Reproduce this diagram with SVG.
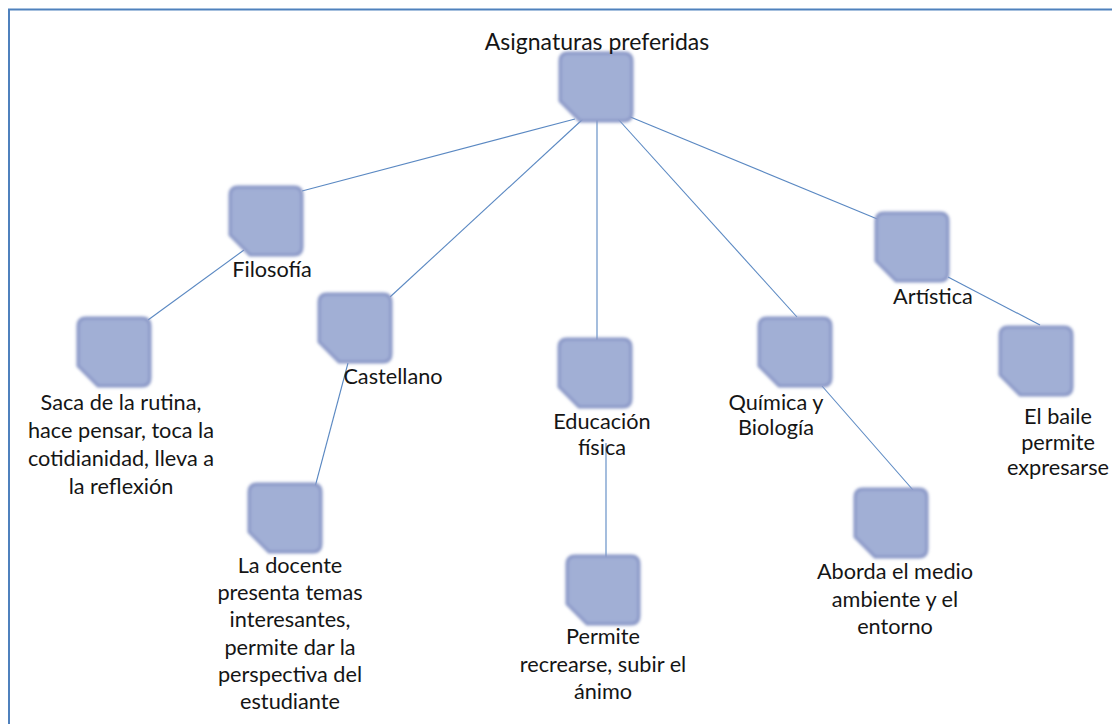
<svg xmlns="http://www.w3.org/2000/svg" xmlns:xlink="http://www.w3.org/1999/xlink" width="1112" height="724" viewBox="0 0 1112 724">
<style>
.t{font-family:Lato,"Liberation Sans",sans-serif;font-size:21.7px;fill:#151515;text-anchor:middle}
.title{font-size:23px}
.ln{stroke:#5A88C2;stroke-width:1.1;fill:none}
</style>
<defs>
<filter id="soft" x="-20%" y="-20%" width="140%" height="140%"><feGaussianBlur stdDeviation="1.5"/></filter>
<g id="nd"><path d="M8,0 H64 Q72,0 72,8 V60 Q72,68 64,68 H20 L0,48 V8 Q0,0 8,0 Z" fill="#A1AFD5" stroke="#8694C5" stroke-width="3" filter="url(#soft)"/></g>
</defs>
<rect x="0" y="0" width="1112" height="724" fill="#ffffff"/>
<rect x="9" y="9.5" width="1200" height="800" fill="none" stroke="#4F81BD" stroke-width="2"/>
<g id="connectors">
<line class="ln" x1="575" y1="119" x2="302" y2="191"/>
<line class="ln" x1="583" y1="119" x2="390" y2="297"/>
<line class="ln" x1="597" y1="120" x2="597" y2="340"/>
<line class="ln" x1="618" y1="119" x2="797" y2="317"/>
<line class="ln" x1="628" y1="116" x2="887" y2="223"/>
<line class="ln" x1="244" y1="250" x2="148" y2="320"/>
<line class="ln" x1="348" y1="363" x2="315" y2="487"/>
<line class="ln" x1="606" y1="443" x2="606" y2="558"/>
<line class="ln" x1="822" y1="386" x2="913" y2="490"/>
<line class="ln" x1="948" y1="277" x2="1040" y2="325"/>
</g>
<g id="root"><use xlink:href="#nd" x="560" y="53"/><text class="t title" x="597" y="50">Asignaturas preferidas</text></g>
<g id="filosofia"><use xlink:href="#nd" x="230" y="187"/><text class="t" x="272" y="277">Filosofía</text></g>
<g id="castellano"><use xlink:href="#nd" x="319" y="294"/><text class="t" x="393" y="384">Castellano</text></g>
<g id="saca"><use xlink:href="#nd" x="78" y="318"/><text class="t" x="121" y="410"><tspan x="121">Saca de la rutina,</tspan><tspan x="121" dy="28">hace pensar, toca la</tspan><tspan x="121" dy="28">cotidianidad, lleva a</tspan><tspan x="121" dy="28">la reflexión</tspan></text></g>
<g id="educacion"><use xlink:href="#nd" x="559" y="339"/><text class="t" x="602" y="429"><tspan x="602">Educación</tspan><tspan x="602" dy="26">física</tspan></text></g>
<g id="docente"><use xlink:href="#nd" x="249" y="484"/><text class="t" x="290" y="573"><tspan x="290">La docente</tspan><tspan x="290" dy="27.2">presenta temas</tspan><tspan x="290" dy="27.2">interesantes,</tspan><tspan x="290" dy="27.2">permite dar la</tspan><tspan x="290" dy="27.2">perspectiva del</tspan><tspan x="290" dy="27.2">estudiante</tspan></text></g>
<g id="permite"><use xlink:href="#nd" x="567" y="556"/><text class="t" x="603" y="644"><tspan x="603">Permite</tspan><tspan x="603" dy="27.5">recrearse, subir el</tspan><tspan x="603" dy="27.5">ánimo</tspan></text></g>
<g id="quimica"><use xlink:href="#nd" x="759" y="318"/><text class="t" x="776" y="410"><tspan x="776">Química y</tspan><tspan x="776" dy="25">Biología</tspan></text></g>
<g id="artistica"><use xlink:href="#nd" x="876" y="213"/><text class="t" x="933" y="304">Artística</text></g>
<g id="baile"><use xlink:href="#nd" x="1000" y="327"/><text class="t" x="1058" y="424"><tspan x="1058">El baile</tspan><tspan x="1058" dy="25.5">permite</tspan><tspan x="1058" dy="25.5">expresarse</tspan></text></g>
<g id="aborda"><use xlink:href="#nd" x="855" y="489"/><text class="t" x="895" y="579"><tspan x="895">Aborda el medio</tspan><tspan x="895" dy="27.5">ambiente y el</tspan><tspan x="895" dy="27.5">entorno</tspan></text></g>
</svg>
